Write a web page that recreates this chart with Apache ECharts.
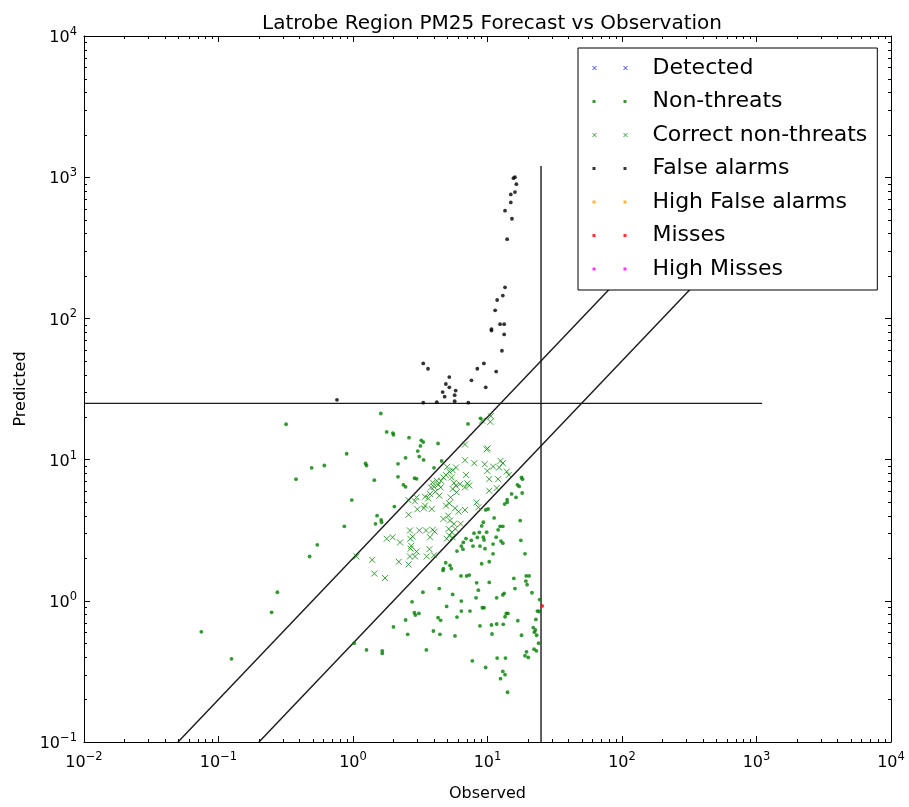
<!DOCTYPE html>
<html>
<head>
<meta charset="utf-8">
<title>Latrobe Region PM25 Forecast vs Observation</title>
<script src="https://cdn.jsdelivr.net/npm/echarts@6.0.0/dist/echarts.min.js"></script>
<style>
  html, body { margin: 0; padding: 0; background: #fff; }
  #chart { width: 909px; height: 807px; }
</style>
</head>
<body>
<div id="chart"></div>
<script>
// axis ranges (log10 decades)
var X_MIN = 0.01, X_MAX = 10000
var Y_MIN = 0.1, Y_MAX = 10000
var THRESHOLD = 25

// [observed, predicted]
var detected = []
var highFalseAlarms = []
var highMisses = []
var misses = [[25.5, 0.92]]

var falseAlarms = [
  [15.6, 984], [16.0, 1000], [16.4, 893], [14.9, 755], [16.0, 784], [14.9, 663], [13.5, 579],
  [15.2, 508], [14.0, 364], [13.5, 166], [13.0, 145], [11.8, 135], [11.4, 114], [10.7, 84],
  [10.7, 82], [12.4, 91], [13.3, 91], [13.3, 77], [12.8, 59], [9.4, 48], [8.4, 44], [11.6, 42],
  [7.6, 36.4], [9.7, 32.5], [3.33, 48], [3.61, 44], [5.2, 38.4], [4.9, 34.3], [5.2, 32.5],
  [4.64, 30.1], [4.8, 27.9], [5.8, 30.8], [5.7, 28.6], [5.7, 25.9], [4.2, 25.5], [3.33, 25.3],
  [7.2, 25.3], [0.76, 26.5]
]

var nonThreats = [
  [1.61, 21.2], [0.318, 17.8], [1.78, 15.7], [1.98, 15.4], [2.0, 15.0], [2.61, 14.3], [3.22, 13.7],
  [3.33, 13.3], [4.29, 13.0], [3.17, 12.5], [3.03, 11.5], [7.16, 17.9], [8.89, 19.6], [0.897, 11.0],
  [2.46, 10.3], [3.11, 10.5], [3.35, 9.95], [4.56, 9.79], [0.493, 8.74], [0.612, 9.08], [1.24, 9.38],
  [1.26, 9.08], [2.16, 9.33], [4.0, 8.74], [0.377, 7.27], [1.44, 7.15], [2.16, 7.55], [2.87, 7.39],
  [2.97, 7.31], [2.37, 6.63], [2.46, 6.42], [0.98, 5.17], [2.03, 4.65], [1.51, 4.01], [1.47, 3.51],
  [1.62, 3.74], [1.63, 3.60], [0.862, 3.37], [0.543, 2.49], [0.476, 2.06],
  [17.9, 7.47], [18.2, 7.27], [16.7, 6.63], [17.2, 6.46], [16.3, 5.40], [18.1, 5.80], [15.1, 5.71],
  [14.0, 5.20], [13.4, 4.84], [14.0, 4.98], [17.5, 3.70], [12.4, 3.37], [13.0, 3.37], [12.0, 3.18],
  [11.6, 2.82], [12.6, 2.65], [11.0, 2.52], [17.7, 2.68], [13.0, 2.56], [19.0, 2.15],
  [9.69, 4.40], [10.1, 4.47], [11.2, 3.86], [9.31, 3.60], [9.05, 3.39], [9.86, 3.06], [8.69, 3.05],
  [7.94, 3.01], [8.40, 2.81], [7.58, 2.68], [6.92, 2.76], [6.61, 2.59], [6.39, 2.44], [5.93, 2.25],
  [6.57, 2.32], [7.80, 2.44], [8.79, 2.44], [9.31, 2.82], [9.42, 2.70], [9.58, 2.34], [11.0, 2.15],
  [9.05, 1.83], [10.3, 1.89],
  [4.89, 1.86], [5.26, 1.78], [5.38, 1.69], [4.67, 1.64], [4.70, 1.69], [6.35, 1.50], [7.0, 1.50],
  [7.32, 1.52], [8.30, 1.34], [10.3, 1.35], [8.55, 1.19], [4.38, 1.22], [3.31, 1.15], [5.51, 1.11],
  [8.22, 1.05], [11.7, 1.05], [13.0, 1.10], [13.3, 1.13], [15.7, 1.44], [16.0, 1.22], [19.4, 1.50],
  [20.4, 1.50], [19.3, 1.38], [19.7, 1.30], [21.4, 1.14], [24.4, 1.02],
  [2.75, 0.984], [4.97, 0.912], [6.39, 0.995], [9.16, 0.893], [9.42, 0.893], [7.41, 0.846],
  [6.39, 0.846], [14.2, 0.814], [13.8, 0.814], [13.5, 0.771], [2.86, 0.823], [2.91, 0.792],
  [3.09, 0.814], [2.46, 0.731], [4.29, 0.759], [4.48, 0.727], [5.93, 0.767], [8.79, 0.664],
  [10.7, 0.674], [11.7, 0.685], [13.1, 0.681], [16.8, 0.723], [22.9, 0.738], [23.5, 0.846],
  [24.2, 0.84], [21.9, 0.646], [22.7, 0.621], [22.3, 0.60], [23.2, 0.570], [17.9, 0.570],
  [10.8, 0.582], [4.43, 0.579], [5.73, 0.564], [3.96, 0.611], [2.0, 0.653], [2.55, 0.579],
  [3.51, 0.449], [1.26, 0.449], [1.65, 0.442], [1.65, 0.424], [1.02, 0.501], [7.71, 0.376],
  [9.69, 0.337], [11.8, 0.393], [13.6, 0.393], [13.0, 0.316], [13.5, 0.300], [12.5, 0.281],
  [14.1, 0.225], [19.5, 0.435], [19.0, 0.408], [20.1, 0.397], [22.2, 0.454], [23.1, 0.442],
  [24.0, 0.501], [0.274, 1.15], [0.248, 0.828], [0.125, 0.388], [0.0745, 0.603]
]

var correctNonThreats = [
  [10.6, 20.3], [10.5, 18.5], [9.10, 18.9], [6.80, 12.8], [10.0, 12.0], [9.86, 11.8], [6.80, 9.89],
  [7.98, 9.43], [9.53, 9.27], [9.97, 8.32], [11.0, 8.93], [12.5, 9.79], [13.0, 9.43], [12.2, 8.79],
  [13.9, 8.23], [14.4, 7.79], [12.0, 7.27], [10.3, 7.27], [5.02, 8.88], [5.20, 8.23], [5.51, 8.41],
  [5.83, 8.79], [4.91, 7.76], [4.70, 7.47], [4.51, 7.08], [4.19, 7.08], [3.91, 6.89], [3.80, 6.35],
  [4.0, 6.42], [4.31, 6.63], [4.48, 6.35], [4.38, 5.55], [4.09, 5.92], [3.74, 5.71], [3.63, 5.31],
  [3.43, 5.46], [2.97, 5.40], [2.89, 5.06], [2.58, 5.17], [3.43, 4.72], [3.85, 4.47], [3.37, 4.52],
  [3.01, 4.45], [2.59, 4.07], [5.42, 7.47], [5.64, 6.85], [5.83, 6.53], [5.51, 6.19], [6.25, 6.70],
  [6.92, 7.79], [7.08, 6.78], [7.32, 6.56], [6.80, 6.35], [5.90, 5.86], [5.32, 5.40], [4.91, 4.72],
  [5.20, 4.90], [5.73, 4.52], [6.10, 4.28], [6.80, 4.40], [8.30, 4.98], [8.55, 4.59], [10.3, 6.02],
  [11.7, 6.29], [5.11, 4.01], [4.70, 3.80], [5.26, 3.70], [5.64, 3.51], [6.31, 3.51], [5.14, 3.23],
  [5.42, 3.06], [5.77, 3.23], [5.20, 2.90], [5.51, 2.82], [4.97, 2.75], [2.65, 3.15], [2.78, 2.85],
  [2.67, 2.75], [3.11, 3.15], [3.49, 3.15], [3.91, 3.18], [4.05, 3.09], [3.74, 2.82], [3.70, 2.32],
  [3.53, 2.06], [4.0, 2.10], [2.71, 2.45], [2.68, 2.34], [2.97, 2.23], [2.89, 2.06], [2.65, 2.06],
  [2.24, 2.59], [1.97, 2.82], [1.78, 2.75], [1.39, 1.95], [1.44, 1.56], [1.73, 1.45], [2.19, 1.89],
  [2.59, 1.81], [1.06, 2.06]
]

// threshold and factor-of-two guide lines
var thresholdH = [[0.01, THRESHOLD], [1100, THRESHOLD]]
var thresholdV = [[THRESHOLD, 0.1], [THRESHOLD, 1200]]
var upperBand = [[0.05, 0.1], [1200, 2400]]
var lowerBand = [[0.2, 0.1], [1200, 600]]

var FONT = 'DejaVu Sans'
var X_ICON = 'path://M0,0L4,4M4,0L0,4M31,0L35,4M35,0L31,4M55,2'
var DOT_ICON = 'path://M0,0h3v3h-3zM31,0h3v3h-3zM55,1.5'
var CROSS = 'path://M0,0L10,10M10,0L0,10'

function minorValues(lo, hi) {
  var out = []
  for (var d = lo; d < hi * 0.999; d *= 10) {
    for (var k = 2; k <= 9; k++) out.push(Number((d * k).toPrecision(2)))
  }
  return out
}

function powLabel(v) {
  var e = Math.round(Math.log10(v))
  return '{b|10}{s|' + (e < 0 ? '\u2212' + (-e) : e) + '}'
}

var labelRich = {
  b: { fontSize: 16, fontFamily: FONT, color: '#000', verticalAlign: 'bottom' },
  s: { fontSize: 11.5, fontFamily: FONT, color: '#000', verticalAlign: 'top', padding: [0, 0, 8, 0] }
}

function logAxis(min, max, split, pos, extra) {
  var ax = {
    type: 'log', logBase: 10, min: min, max: max, splitNumber: split, position: pos,
    axisLine: { show: true, onZero: false, lineStyle: { color: '#000', width: 1 } },
    axisTick: { show: true, inside: true, length: 6, lineStyle: { color: '#000', width: 1 } },
    splitLine: { show: false },
    axisLabel: { show: false }
  }
  return Object.assign(ax, extra || {})
}

var tickStyle = { stroke: '#000', lineWidth: 1 }

function dotSeries(name, data, color) {
  return {
    name: name, type: 'scatter', data: data, symbol: 'circle', symbolSize: 3.8,
    itemStyle: { color: color }, z: 2
  }
}
function crossSeries(name, data, color) {
  return {
    name: name, type: 'scatter', data: data, symbol: CROSS, symbolSize: 6,
    itemStyle: { color: 'rgba(0,0,0,0)', borderColor: color, borderWidth: 1, opacity: 0.75 }, z: 2
  }
}
function guideLine(data) {
  return {
    type: 'line', data: data, showSymbol: false, silent: true, z: 2,
    lineStyle: { color: '#1a1a1a', width: 1.4 }
  }
}

var chart = echarts.init(document.getElementById('chart'))
chart.setOption({
  animation: false,
  backgroundColor: '#fff',
  title: {
    text: 'Latrobe Region PM25 Forecast vs Observation',
    left: 487, top: 9, textAlign: 'center',
    textStyle: { fontFamily: FONT, fontSize: 20, fontWeight: 'normal', color: '#000' }
  },
  grid: { left: 84, right: 18, top: 36, bottom: 61 },
  legend: {
    orient: 'vertical', left: 578, top: 48, z: 10,
    padding: [9, 10, 10, 14], itemGap: 11.5,
    itemWidth: 55, itemHeight: 4,
    backgroundColor: '#fff', borderColor: '#000', borderWidth: 1,
    textStyle: { fontFamily: FONT, fontSize: 22, color: '#000' },
    selectedMode: false,
    data: [
      { name: 'Detected', icon: X_ICON, itemStyle: { borderWidth: 1 } },
      { name: 'Non-threats', icon: DOT_ICON },
      { name: 'Correct non-threats', icon: X_ICON, itemStyle: { borderWidth: 1 } },
      { name: 'False alarms', icon: DOT_ICON },
      { name: 'High False alarms', icon: DOT_ICON },
      { name: 'Misses', icon: DOT_ICON },
      { name: 'High Misses', icon: DOT_ICON }
    ]
  },
  xAxis: [
    logAxis(X_MIN, X_MAX, 6, 'bottom', {
      name: 'Observed', nameLocation: 'middle', nameGap: 44,
      nameTextStyle: { fontFamily: FONT, fontSize: 16, color: '#000' },
      axisLabel: { show: true, margin: 9, formatter: powLabel, rich: labelRich }
    }),
    logAxis(X_MIN, X_MAX, 6, 'top')
  ],
  yAxis: [
    logAxis(Y_MIN, Y_MAX, 5, 'left', {
      name: 'Predicted', nameLocation: 'middle', nameGap: 55,
      nameTextStyle: { fontFamily: FONT, fontSize: 16, color: '#000' },
      axisLabel: { show: true, margin: 7, formatter: powLabel, rich: labelRich }
    }),
    logAxis(Y_MIN, Y_MAX, 5, 'right')
  ],
  series: [
    crossSeries('Detected', detected, '#0000ff'),
    dotSeries('Non-threats', nonThreats, '#008000'),
    crossSeries('Correct non-threats', correctNonThreats, '#008000'),
    dotSeries('False alarms', falseAlarms, '#000000'),
    dotSeries('High False alarms', highFalseAlarms, '#ffa500'),
    dotSeries('Misses', misses, '#ff0000'),
    dotSeries('High Misses', highMisses, '#ff00ff'),
    guideLine(thresholdH),
    guideLine(thresholdV),
    guideLine(upperBand),
    guideLine(lowerBand),
    {
      // log minor ticks on bottom/top
      type: 'custom', silent: true, clip: false, z: 5,
      data: minorValues(X_MIN, X_MAX).map(function (v) { return [v, Y_MIN] }),
      renderItem: function (params, api) {
        var lo = api.coord([api.value(0), Y_MIN])
        var hi = api.coord([api.value(0), Y_MAX])
        var x = Math.round(lo[0]) + 0.5
        return { type: 'group', children: [
          { type: 'line', shape: { x1: x, y1: lo[1], x2: x, y2: lo[1] - 3 }, style: tickStyle },
          { type: 'line', shape: { x1: x, y1: hi[1], x2: x, y2: hi[1] + 3 }, style: tickStyle }
        ] }
      }
    },
    {
      // log minor ticks on left/right
      type: 'custom', silent: true, clip: false, z: 5,
      data: minorValues(Y_MIN, Y_MAX).map(function (v) { return [X_MIN, v] }),
      renderItem: function (params, api) {
        var lo = api.coord([X_MIN, api.value(1)])
        var hi = api.coord([X_MAX, api.value(1)])
        var y = Math.round(lo[1]) + 0.5
        return { type: 'group', children: [
          { type: 'line', shape: { x1: lo[0], y1: y, x2: lo[0] + 3, y2: y }, style: tickStyle },
          { type: 'line', shape: { x1: hi[0], y1: y, x2: hi[0] - 3, y2: y }, style: tickStyle }
        ] }
      }
    }
  ]
})
</script>
</body>
</html>
